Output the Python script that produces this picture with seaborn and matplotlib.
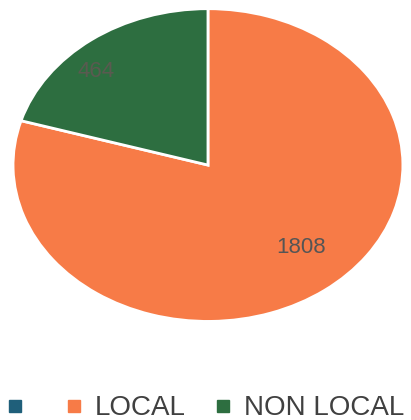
import matplotlib
matplotlib.use("Agg")
import matplotlib.pyplot as plt
from matplotlib.lines import Line2D
import numpy as np
import seaborn as sns

categories = ["", "LOCAL", "NON LOCAL"]
values = [0, 1808, 464]
colors = ["#1f5f7a", "#f77b47", "#2d6e40"]

sns.set_theme(style="white")
plt.rcParams['font.family'] = ['Liberation Sans', 'DejaVu Sans']

fig = plt.figure(figsize=(4.11, 4.20), dpi=100)
ax = fig.add_axes([0.027, 0.231, 0.958, 0.752])

wedges, texts, autotexts = ax.pie(
    values, colors=colors, startangle=90, counterclock=False,
    autopct=lambda p: "" if p == 0 else "%d" % round(p * sum(values) / 100),
    pctdistance=0.75,
    wedgeprops=dict(edgecolor="white", linewidth=2),
    textprops=dict(fontsize=16, color="#555555"))
autotexts[2].set_color("#5a5a50")

# nudge value labels a bit like the original
for t, ang, r in [(autotexts[1], -48, 0.71), (autotexts[2], 134, 0.83)]:
    t.set_position((r * np.cos(np.radians(ang)), r * np.sin(np.radians(ang))))

ax.set_aspect("auto")
ax.set_xlim(-1.01, 1.01)
ax.set_ylim(-1.01, 1.01)

handles = [Line2D([], [], marker="s", linestyle="", markersize=8,
                  markerfacecolor=c, markeredgecolor=c) for c in colors]
leg = fig.legend(handles, categories, loc="center", bbox_to_anchor=(0.5, 0.028),
                 ncol=3, frameon=False, fontsize=20, handlelength=0.6,
                 handletextpad=0.45, columnspacing=1.05)
for t in leg.get_texts():
    t.set_color("#404040")

fig.savefig("out.png", dpi=100)
